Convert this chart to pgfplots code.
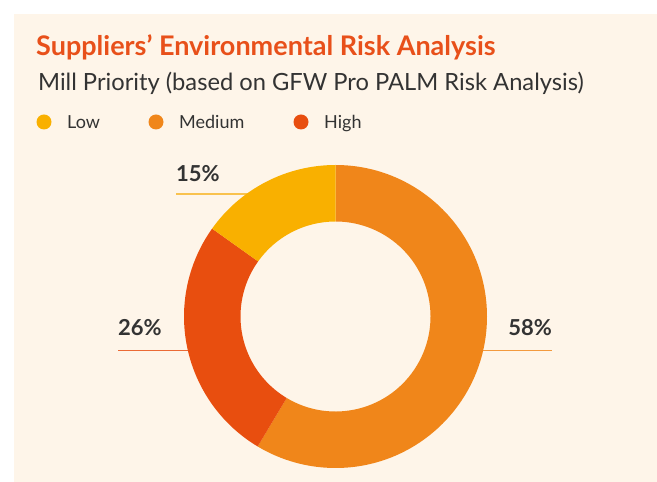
\documentclass[border=0pt]{standalone}
\usepackage{pgfplots}
\pgfplotsset{compat=1.18}
\usepackage{pgfplotstable}
\usepackage{fontspec}
\setmainfont{Lato}

\definecolor{panel}{HTML}{FEF5E9}
\definecolor{lowc}{HTML}{F9B000}
\definecolor{medc}{HTML}{F0861A}
\definecolor{highc}{HTML}{E84E0F}
\definecolor{titlec}{HTML}{E8501A}
\definecolor{textc}{HTML}{333333}
\definecolor{lowline}{HTML}{F9C24E}
\definecolor{medline}{HTML}{F39A3E}
\definecolor{highline}{HTML}{EB6A35}

% Mill priority shares (percent), in drawing order clockwise from the top
\pgfplotstableread{
label  value
Medium 58
High   26
Low    15
}\riskdata

\pgfplotstablegetelem{0}{value}\of\riskdata \let\vMed\pgfplotsretval
\pgfplotstablegetelem{1}{value}\of\riskdata \let\vHigh\pgfplotsretval
\pgfplotstablegetelem{2}{value}\of\riskdata \let\vLow\pgfplotsretval

\pgfmathsetmacro\total{\vMed+\vHigh+\vLow}
\pgfmathsetmacro\degper{360/\total}
\pgfmathsetmacro\aStart{90}
\pgfmathsetmacro\aMed{90-\degper*\vMed}
\pgfmathsetmacro\aHigh{\aMed-\degper*\vHigh}
\pgfmathsetmacro\aLow{\aHigh-\degper*\vLow}

% donut geometry
\def\cx{335.5}
\def\cy{165.5}
\def\R{151.5}
\def\r{95}

% annular sector: colour, start angle, end angle
\newcommand\ringsector[3]{%
  \fill[#1] ({\cx+\R*cos(#2)},{\cy+\R*sin(#2)})
    arc[start angle=#2, end angle=#3, radius=\R]
    -- ({\cx+\r*cos(#3)},{\cy+\r*sin(#3)})
    arc[start angle=#3, end angle=#2, radius=\r] -- cycle;}

\begin{document}
\begin{tikzpicture}
\begin{axis}[
  x=1pt, y=1pt,
  xmin=0, xmax=657, ymin=0, ymax=482,
  scale only axis, hide axis, clip=false,
]
  % page and panel background
  \fill[white] (0,0) rectangle (657,482);
  \fill[panel] (14,0) rectangle (657,468);

  % titles
  \node[anchor=base west, inner sep=0, text=titlec,
        font=\fontsize{27}{32}\selectfont\bfseries] at (36,426)
        {Suppliers’ Environmental Risk Analysis};
  \node[anchor=base west, inner sep=0, text=textc,
        font=\fontsize{23.7}{29}\selectfont] at (38,391)
        {Mill Priority (based on GFW Pro PALM Risk Analysis)};

  % legend
  \fill[lowc]  (44,360) circle[radius=7.5];
  \fill[medc]  (156,360) circle[radius=7.5];
  \fill[highc] (301,360) circle[radius=7.5];
  \node[anchor=base west, inner sep=0, text=textc,
        font=\fontsize{18}{22}\selectfont] at (67,353) {Low};
  \node[anchor=base west, inner sep=0, text=textc,
        font=\fontsize{18}{22}\selectfont] at (179,353) {Medium};
  \node[anchor=base west, inner sep=0, text=textc,
        font=\fontsize{18}{22}\selectfont] at (324,353) {High};

  % leader lines (drawn under the ring)
  \draw[lowline, line width=1.5pt]  (176,288) -- (260,288);
  \draw[highline, line width=1.5pt] (118,131.5) -- (200,131.5);
  \draw[medline, line width=1.5pt]  (470,131.5) -- (552,131.5);

  % ring
  \ringsector{medc}{\aStart}{\aMed}
  \ringsector{highc}{\aMed}{\aHigh}
  \ringsector{lowc}{\aHigh}{\aLow}

  % value labels
  \node[anchor=base west, inner sep=0, text=textc,
        font=\fontsize{22}{26}\selectfont\bfseries] at (176,300) {\vLow\%};
  \node[anchor=base west, inner sep=0, text=textc,
        font=\fontsize{22}{26}\selectfont\bfseries] at (118,146) {\vHigh\%};
  \node[anchor=base east, inner sep=0, text=textc,
        font=\fontsize{22}{26}\selectfont\bfseries] at (552,146) {\vMed\%};
\end{axis}
\end{tikzpicture}
\end{document}
